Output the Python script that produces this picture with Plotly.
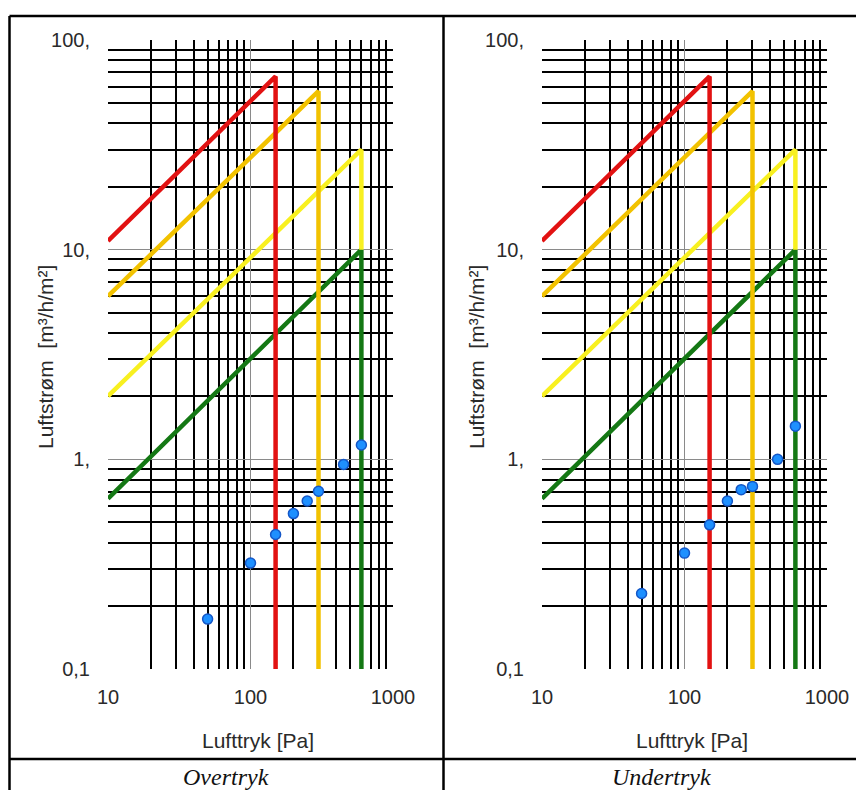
import plotly.graph_objects as go

# the page body has an 8px margin; the figure is sized so it ends at the window edge
OFF = 8
W, H = 864 - OFF, 790 - OFF

# ---- data ----
x_major = [10, 100, 1000]
x_major_text = ["10", "100", "1000"]
x_minor = [20, 30, 40, 50, 60, 70, 80, 90, 200, 300, 400, 500, 600, 700, 800, 900]
y_major = [0.1, 1, 10, 100]
y_major_text = ["0,1", "1,", "10,", "100,"]
y_minor = [0.2, 0.3, 0.4, 0.5, 0.6, 0.7, 0.8, 0.9, 2, 3, 4, 5, 6, 7, 8, 9,
           20, 30, 40, 50, 60, 70, 80, 90]

red_p = [10, 150, 150]
red_q = [11, 67, 0.1]
orange_p = [10, 300, 300]
orange_q = [6, 57, 0.1]
yellow_p = [10, 600, 600]
yellow_q = [2, 30, 10]
green_p = [10, 600, 600]
green_q = [0.65, 10, 0.1]

over_p = [50, 100, 150, 200, 250, 300, 450, 600]
over_q = [0.173, 0.32, 0.438, 0.551, 0.633, 0.704, 0.946, 1.17]
under_p = [50, 100, 150, 200, 250, 300, 450, 600]
under_q = [0.229, 0.357, 0.487, 0.633, 0.717, 0.743, 1.0, 1.44]

captions = ["Overtryk", "Undertryk"]
x_title = "Lufttryk [Pa]"
y_title = "Luftstrøm  [m³/h/m²]"

# ---- figure ----
def px(x):
    return (x - OFF) / W

def py(y):
    return 1 - (y - OFF) / H

fig = go.Figure()

line_specs = [
    (green_p, green_q, "#147814"),
    (yellow_p, yellow_q, "#F8F020"),
    (orange_p, orange_q, "#F2C200"),
    (red_p, red_q, "#E21212"),
]

for i, (pts_q) in enumerate([over_q, under_q]):
    xa = "x" if i == 0 else "x2"
    ya = "y" if i == 0 else "y2"
    for p, q, c in line_specs:
        fig.add_trace(go.Scatter(x=p, y=q, mode="lines", xaxis=xa, yaxis=ya,
                                 line=dict(color=c, width=4.5), showlegend=False,
                                 hoverinfo="skip"))
    pp = over_p if i == 0 else under_p
    fig.add_trace(go.Scatter(x=pp, y=pts_q, mode="markers", xaxis=xa, yaxis=ya,
                             marker=dict(size=10, color="#1E90FF",
                                         line=dict(color="#1457C8", width=1.5)),
                             showlegend=False))

tick_font = dict(family="Liberation Sans, Arial, sans-serif", size=20, color="#2a2a2a")

def xaxis(domain, anchor):
    return dict(type="log", range=[1, 3], domain=domain, anchor=anchor,
                tickvals=x_major, ticktext=x_major_text, tickfont=tick_font,
                showgrid=True, gridcolor="#8a8a8a", gridwidth=1,
                minor=dict(tickvals=x_minor, showgrid=True, gridcolor="#000000",
                           gridwidth=1.6, ticks=""),
                ticks="", ticklabelstandoff=14, zeroline=False, showline=False,
                automargin=False, fixedrange=True)

def yaxis(domain, anchor):
    return dict(type="log", range=[-1, 2], domain=domain, anchor=anchor,
                tickvals=y_major, ticktext=y_major_text, tickfont=tick_font,
                showgrid=True, gridcolor="#8a8a8a", gridwidth=1,
                minor=dict(tickvals=y_minor, showgrid=True, gridcolor="#000000",
                           gridwidth=1.6, ticks=""),
                ticks="", ticklabelstandoff=17, zeroline=False, showline=False,
                automargin=False, fixedrange=True)

ydom = [py(669), py(40)]
fig.update_layout(
    template="none",
    width=W, height=H, autosize=False,
    margin=dict(l=0, r=0, t=0, b=0, pad=0),
    paper_bgcolor="white", plot_bgcolor="white",
    xaxis=xaxis([px(108), px(393)], "y"),
    yaxis=yaxis(ydom, "x"),
    xaxis2=xaxis([px(542), px(827)], "y2"),
    yaxis2=yaxis(ydom, "x2"),
)

# table frame
frame = dict(type="line", xref="paper", yref="paper", line=dict(color="black", width=2.5))
fig.add_shape(**frame, x0=px(9.5), x1=1, y0=py(16), y1=py(16))
fig.add_shape(**frame, x0=px(9.5), x1=px(9.5), y0=py(16), y1=0)
fig.add_shape(**frame, x0=px(443.5), x1=px(443.5), y0=py(16), y1=0)
fig.add_shape(**frame, x0=px(9.5), x1=1, y0=py(759), y1=py(759))

title_font = dict(family="Liberation Sans, Arial, sans-serif", size=21, color="#2a2a2a")
for cx in (258, 692):
    fig.add_annotation(x=px(cx), y=py(740), xref="paper", yref="paper", text=x_title,
                       showarrow=False, font=title_font, xanchor="center", yanchor="middle")
for cx in (45, 476):
    fig.add_annotation(x=px(cx), y=py(357), xref="paper", yref="paper", text=y_title,
                       showarrow=False, font=title_font, textangle=-90,
                       xanchor="center", yanchor="middle")

cap_font = dict(family="Liberation Serif, Times New Roman, serif", size=24, color="#111111")
for cx, t in zip((226, 661), captions):
    fig.add_annotation(x=px(cx), y=py(777), xref="paper", yref="paper",
                       text="<i>" + t + "</i>", showarrow=False, font=cap_font,
                       xanchor="center", yanchor="middle")

fig.write_html("out.html")
